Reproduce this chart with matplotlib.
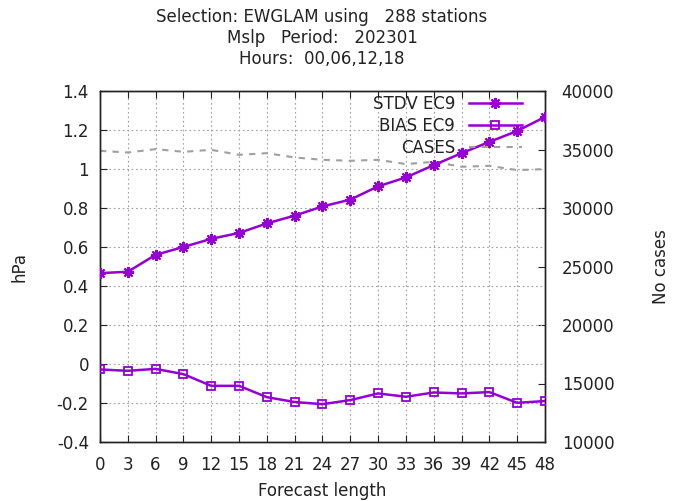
import matplotlib
matplotlib.use("Agg")
import matplotlib.pyplot as plt
from matplotlib.lines import Line2D

plt.rcParams['font.family'] = ['DejaVu Sans']

hours = [0, 3, 6, 9, 12, 15, 18, 21, 24, 27, 30, 33, 36, 39, 42, 45, 48]
stdv_ec9 = [0.466, 0.473, 0.560, 0.600, 0.642, 0.672, 0.721, 0.761, 0.808, 0.843,
            0.911, 0.957, 1.020, 1.081, 1.139, 1.195, 1.267]
bias_ec9 = [-0.028, -0.035, -0.025, -0.052, -0.112, -0.112, -0.170, -0.195, -0.206, -0.185,
            -0.151, -0.168, -0.146, -0.151, -0.144, -0.199, -0.190]
cases = [34886, 34744, 35031, 34801, 34972, 34545, 34688, 34318, 34119, 34034,
         34119, 33753, 33949, 33523, 33608, 33238, 33324]

title_lines = ["Selection: EWGLAM using   288 stations",
               "Mslp   Period:   202301",
               "Hours:  00,06,12,18"]

purple = '#9400D3'
gray = '#a0a0a0'
FS = 12

fig = plt.figure(figsize=(6.74, 5.01), dpi=100)
ax = fig.add_axes([100/674, 59/501, 445/674, 351/501])
ax2 = ax.twinx()

# cases on secondary axis (behind)
ax2.plot(hours, cases, color=gray, lw=1.5, ls=(0, (3, 3)), zorder=1)
ax2.set_ylim(10000, 40000)
ax2.set_yticks(range(10000, 40001, 5000))
ax2.tick_params(axis='y', direction='in', length=5, labelsize=FS, pad=12, colors='#222222')
ax2.set_ylabel("No cases", fontsize=FS, labelpad=27, color='#222222')

ax.set_zorder(ax2.get_zorder() + 1)
ax.patch.set_visible(False)

ax.plot(hours, stdv_ec9, color=purple, lw=1.8, marker=(8, 2, 0), ms=8, mew=1.5, zorder=3)
ax.plot(hours, bias_ec9, color=purple, lw=1.8, marker='s', ms=6, mfc='none', mew=1.3, zorder=3)

ax.set_xlim(0, 48)
ax.set_ylim(-0.4, 1.4)
ax.set_xticks(hours)
ax.set_yticks([-0.4, -0.2, 0, 0.2, 0.4, 0.6, 0.8, 1.0, 1.2, 1.4])
ax.set_yticklabels(["-0.4", "-0.2", "0", "0.2", "0.4", "0.6", "0.8", "1", "1.2", "1.4"])
ax.tick_params(axis='both', direction='in', length=5, labelsize=FS, colors='#222222')
ax.tick_params(axis='y', pad=8)
ax.tick_params(axis='x', top=True, pad=10)
ax.grid(True, color=gray, ls=(0, (1.5, 2.5)), lw=0.8)
ax.set_xlabel("Forecast length", fontsize=FS, labelpad=5.5, color='#222222')
ax.set_ylabel("hPa", fontsize=FS, labelpad=20, color='#222222')

for sp in list(ax.spines.values()) + list(ax2.spines.values()):
    sp.set_linewidth(1.0)
    sp.set_color('#222222')

handles = [
    Line2D([], [], color=purple, lw=1.8, marker=(8, 2, 0), ms=8, mew=1.5),
    Line2D([], [], color=purple, lw=1.8, marker='s', ms=6, mfc='none', mew=1.3),
    Line2D([], [], color=gray, lw=1.5, ls=(0, (3, 3))),
]
leg = ax.legend(handles, ["STDV EC9", "BIAS EC9", "CASES"], loc='upper right',
                bbox_to_anchor=(0.948, 0.988), frameon=False, markerfirst=False,
                fontsize=FS, handlelength=3.2, handletextpad=0.8, labelspacing=0.22,
                borderaxespad=0.0, borderpad=0.0)
for t in leg.get_texts():
    t.set_ha('right')
    t.set_color('#222222')

for i, line in enumerate(title_lines):
    fig.text(322/674, 1 - (17.5 + 20.5*i)/501, line, ha='center', va='center',
             fontsize=FS, color='#222222')

fig.savefig("out.png", dpi=100)
